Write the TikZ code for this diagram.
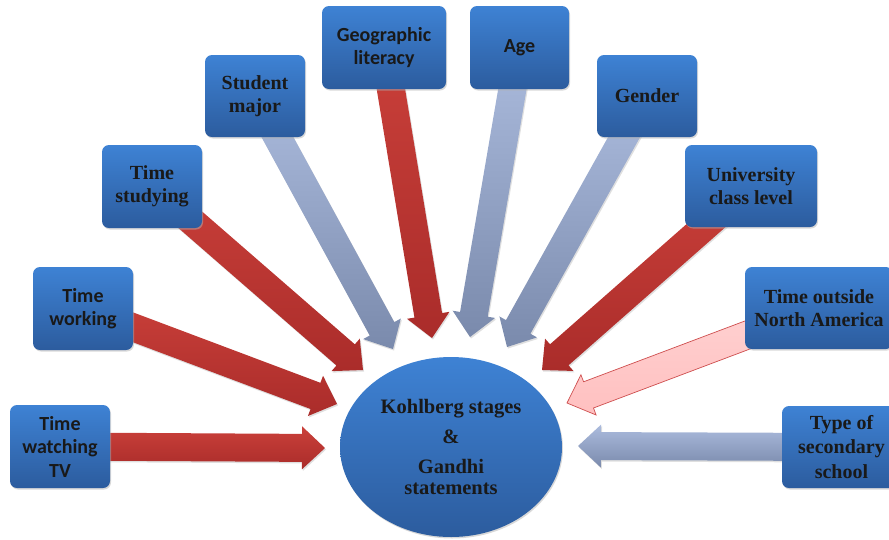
\documentclass[tikz,border=0pt]{standalone}
\usepackage{fontspec}
\newfontfamily\calfont{Carlito}
\newfontfamily\timesfont{Liberation Serif}
\usetikzlibrary{shapes.geometric,calc,shadows}
\pgfdeclarelayer{background}
\pgfsetlayers{background,main}
\definecolor{boxtop}{RGB}{62,130,212}
\definecolor{boxbot}{RGB}{44,92,158}
\definecolor{redtop}{RGB}{202,64,58}
\definecolor{redbot}{RGB}{170,44,42}
\definecolor{greytop}{RGB}{172,188,222}
\definecolor{greybot}{RGB}{122,138,172}
\definecolor{pinkfill}{RGB}{255,192,192}
\definecolor{pinkline}{RGB}{206,78,78}
% block arrow: style, source node, tip coordinate
\newcommand{\fatarrow}[3]{%
  \coordinate (hb) at ($(#3)!23pt!(#2)$);
  \path[#1] ($(#2)!14pt!90:(#3)$) -- ($(hb)!14pt!90:(#3)$) -- ($(hb)!21.5pt!90:(#3)$) -- (#3)
    -- ($(hb)!21.5pt!-90:(#3)$) -- ($(hb)!14pt!-90:(#3)$) -- ($(#2)!14pt!-90:(#3)$) -- cycle;}

\begin{document}
\begin{tikzpicture}[x=1pt, y=-1pt,
  box/.style={rectangle,rounded corners=7pt,top color=boxtop,bottom color=boxbot,align=center,inner sep=0pt,minimum height=83pt,minimum width=100pt,text=black!90,drop shadow={shadow xshift=1pt,shadow yshift=-1.5pt,fill=black!30,opacity=.5}},
  cal/.style={box,font=\calfont\bfseries\fontsize{20}{23.5}\selectfont},
  tms/.style={box,font=\timesfont\bfseries\fontsize{20}{23}\selectfont},
  hub/.style={ellipse,top color=boxtop,bottom color=boxbot,minimum width=222pt,minimum height=180pt,inner sep=0pt,align=center,text=black!90,font=\timesfont\bfseries\fontsize{20.5}{21.5}\selectfont,drop shadow={shadow xshift=1pt,shadow yshift=-1.5pt,fill=black!30,opacity=.5}},
  redarr/.style={top color=redtop,bottom color=redbot,drop shadow={shadow xshift=1pt,shadow yshift=-1.5pt,fill=black!25,opacity=.5}},
  greyarr/.style={top color=greytop,bottom color=greybot,drop shadow={shadow xshift=1pt,shadow yshift=-1.5pt,fill=black!25,opacity=.5}},
  pinkarr/.style={top color=pinkfill!70!white,bottom color=pinkfill,draw=pinkline,line width=0.7pt}]
\useasboundingbox (0,0) rectangle (889,539);
\node[cal] (tv) at (60,446.5) {Time\\watching\\TV};
\node[cal] (work) at (83,308.5) {Time\\working};
\node[tms] (study) at (152,186.5) {Time\\studying};
\node[tms, minimum height=82pt] (major) at (255,96) {Student\\major};
\node[cal, minimum width=124pt] (geo) at (384,47.5) {Geographic\\literacy};
\node[cal, minimum width=99pt] (age) at (519.5,47.5) {Age};
\node[tms, minimum height=82pt] (gender) at (647,96) {Gender};
\node[tms, minimum width=132pt, minimum height=82pt] (univ) at (751,186) {University\\class level};
\node[tms, minimum width=148pt, minimum height=82pt] (abroad) at (819,308) {Time outside\\North America};
\node[tms, minimum width=119pt, minimum height=82pt, font=\timesfont\bfseries\fontsize{20}{24.5}\selectfont] (school) at (841.5,447) {Type of\\secondary\\school};
\node[hub] (kohl) at (451,447) {Kohlberg stages\\[9pt]\&\\[8pt]Gandhi\\statements};
\coordinate (tTV) at (325,448);
\coordinate (tWork) at (337,404);
\coordinate (tStudy) at (363,370);
\coordinate (tMajor) at (393,349);
\coordinate (tGeo) at (432,338);
\coordinate (tAge) at (470,337);
\coordinate (tGender) at (507,347);
\coordinate (tUniv) at (542,370);
\coordinate (tAbroad) at (567,403);
\coordinate (tSchool) at (578,446);
\begin{pgfonlayer}{background}
\fatarrow{redarr}{tv}{tTV}
\fatarrow{redarr}{work}{tWork}
\fatarrow{redarr}{study}{tStudy}
\fatarrow{greyarr}{major}{tMajor}
\fatarrow{redarr}{geo}{tGeo}
\fatarrow{greyarr}{age}{tAge}
\fatarrow{greyarr}{gender}{tGender}
\fatarrow{redarr}{univ}{tUniv}
\fatarrow{pinkarr}{abroad}{tAbroad}
\fatarrow{greyarr}{school}{tSchool}
\end{pgfonlayer}
\end{tikzpicture}
\end{document}
